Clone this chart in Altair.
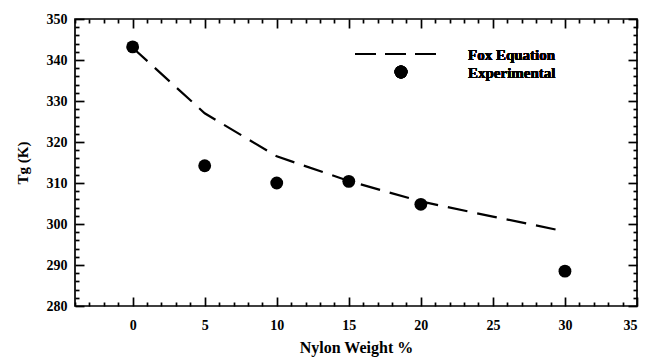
import altair as alt
import pandas as pd

# ---- data ----
fox_x = [0, 5, 10, 15, 20, 25, 30]
fox_tg = [343.0, 327.0, 316.5, 310.5, 305.5, 301.8, 298.2]
exp_x = [0, 5, 10, 15, 20, 30]
exp_tg = [343.2, 314.2, 310.0, 310.4, 304.8, 288.5]
x_major = [0, 5, 10, 15, 20, 25, 30, 35]
y_major = [280, 290, 300, 310, 320, 330, 340, 350]
x_minor = list(range(-4, 36))
y_minor = list(range(280, 351, 2))
series = ["Fox Equation", "Experimental"]

fox_df = pd.DataFrame({"x": fox_x, "tg": fox_tg})
exp_df = pd.DataFrame({"x": exp_x, "tg": exp_tg})

W, H = 562, 287
FONT = "Liberation Serif"

xs = alt.Scale(domain=[-4, 35], nice=False, zero=False)
ys = alt.Scale(domain=[280, 350], nice=False, zero=False)

lab = dict(labelFont=FONT, labelFontWeight="bold", labelFontSize=14, labelColor="black",
           grid=False, domain=False)

# Labelled axes (no ticks)
line = alt.Chart(fox_df).mark_line(
    color="black", strokeWidth=2.2, strokeDash=[20, 10]
).encode(
    x=alt.X("x:Q", scale=xs, axis=alt.Axis(
        orient="bottom", values=x_major, ticks=False, labelPadding=12,
        title="Nylon Weight %", titleFont=FONT, titleFontWeight="bold",
        titleFontSize=16, titleColor="black", titlePadding=7, **lab)),
    y=alt.Y("tg:Q", scale=ys, axis=alt.Axis(
        orient="left", values=y_major, ticks=False, labelPadding=8,
        title="Tg (K)", titleFont=FONT, titleFontWeight="bold",
        titleFontSize=15, titleColor="black", titlePadding=16, **lab)),
)

xtick = {"condition": {"test": "datum.value % 5 === 0", "value": 9}, "value": 4}
ytick = {"condition": {"test": "datum.value % 10 === 0", "value": 9}, "value": 4}
nolab = dict(labels=False, domain=False, grid=False, title="", ticks=True,
             tickColor="black", tickWidth=1.7)

# Inward ticks on bottom and left
pts = alt.Chart(exp_df).mark_circle(color="black", opacity=1, size=165).encode(
    x=alt.X("x:Q", scale=xs, axis=alt.Axis(orient="top", offset=-H, values=x_minor,
                                           tickSize=xtick, **nolab)),
    y=alt.Y("tg:Q", scale=ys, axis=alt.Axis(orient="right", offset=-W, values=y_minor,
                                            tickSize=ytick, **nolab)),
)

# Inward ticks on top and right
ghost = alt.Chart(exp_df).mark_point(opacity=0).encode(
    x=alt.X("x:Q", scale=xs, axis=alt.Axis(orient="bottom", offset=-H, values=x_minor,
                                           tickSize=xtick, **nolab)),
    y=alt.Y("tg:Q", scale=ys, axis=alt.Axis(orient="left", offset=-W, values=y_minor,
                                            tickSize=ytick, **nolab)),
)

# Manual legend
leg_line = alt.Chart(fox_df).mark_rule(
    color="black", strokeWidth=2.2, strokeDash=[21, 9]
).encode(x=alt.value(280), x2=alt.value(362), y=alt.value(35))
leg_dot = alt.Chart(exp_df).mark_circle(color="black", opacity=1, size=165).encode(
    x=alt.value(326), y=alt.value(53))
txt = dict(font=FONT, fontWeight="bold", fontSize=15, color="black",
           align="left", baseline="middle")
leg_t1 = alt.Chart(fox_df).mark_text(**txt).encode(
    x=alt.value(393), y=alt.value(36), text=alt.value(series[0]))
leg_t2 = alt.Chart(exp_df).mark_text(**txt).encode(
    x=alt.value(393), y=alt.value(54), text=alt.value(series[1]))

chart = alt.layer(line, pts, ghost, leg_line, leg_dot, leg_t1, leg_t2).resolve_axis(
    x="independent", y="independent"
).properties(
    width=W, height=H,
    autosize=alt.AutoSizeParams(type="none"),
    padding={"left": 75, "top": 19, "right": 9, "bottom": 51},
    background="white",
).configure_view(stroke="black", strokeWidth=1.7)

chart.save("out.html", embed_options={"renderer": "svg", "actions": False})
